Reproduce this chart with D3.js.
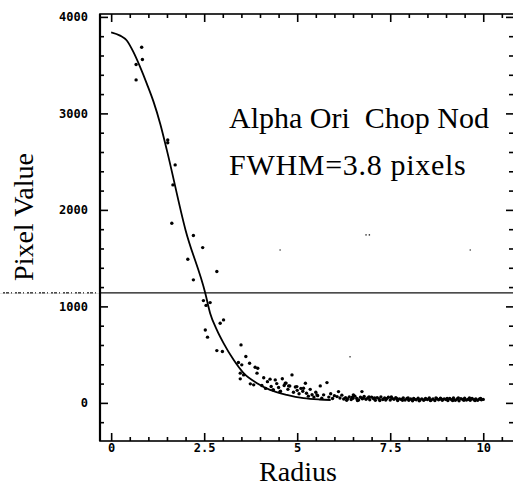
<!DOCTYPE html>
<html>
<head>
<meta charset="utf-8">
<script src="https://cdn.jsdelivr.net/npm/d3@7"></script>
<style>
  body { margin: 0; background: #fff; }
  svg { display: block; }
</style>
</head>
<body>
<div id="chart"></div>
<script>
// fitted profile
const curvePoints = [
  [0, 3840], [0.24, 3806], [0.42, 3755], [0.6, 3634], [0.78, 3479], [0.96, 3306],
  [1.14, 3119], [1.32, 2891], [1.5, 2614], [2.0, 1790], [2.53, 1137], [2.66, 930],
  [2.84, 756], [3.02, 619], [3.29, 446], [3.56, 308], [3.92, 204], [4.27, 135],
  [4.72, 83], [5.17, 49], [5.6, 35], [5.9, 30]
];

// measured pixels (radius, value)
const corePoints = [
  [0.67, 3506], [0.67, 3347], [0.82, 3686], [0.84, 3558], [1.52, 2725], [1.52, 2695],
  [1.63, 1862], [1.66, 2259], [1.72, 2466], [2.06, 1489], [2.21, 1734], [2.21, 1275],
  [2.46, 1609], [2.84, 1361], [2.48, 1060], [2.55, 1010], [2.66, 1039], [2.53, 756],
  [2.59, 681], [2.84, 542], [2.99, 532], [2.93, 826], [3.02, 860], [3.49, 601],
  [3.62, 480], [3.42, 418], [3.51, 394], [3.72, 411], [3.87, 370], [3.94, 359],
  [3.47, 308], [3.56, 290], [3.92, 308], [3.47, 249], [3.74, 197], [3.83, 187],
  [4.27, 246], [4.41, 238], [4.86, 290], [4.68, 204], [4.77, 176], [4.99, 169],
  [5.22, 204], [5.17, 152], [4.36, 135], [4.54, 117], [5.53, 83]
];

const wingPoints = [
  [4.05, 180], [4.1, 260], [4.15, 150], [4.2, 220], [4.3, 170], [4.35, 135], [4.45, 200],
  [4.5, 160], [4.55, 120], [4.6, 250], [4.65, 180], [4.7, 205], [4.75, 140], [4.8, 175],
  [4.9, 110], [4.95, 165], [5.0, 130], [5.05, 95], [5.1, 150], [5.15, 120], [5.25, 100],
  [5.3, 70], [5.35, 140], [5.4, 85], [5.45, 60], [5.5, 110], [5.55, 75], [5.62, 176],
  [5.66, 49], [5.71, 83], [5.8, 210], [5.85, 60], [5.9, 95], [5.95, 45], [6.0, 75],
  [6.07, 65], [6.11, 117], [6.15, 50], [6.2, 80], [6.25, 40], [6.51, 83], [6.74, 117]
];

const tailPoints = [
  [6.30, 55], [6.35, 40], [6.40, 62], [6.45, 35], [6.50, 48], [6.55, 70], [6.60, 45],
  [6.65, 30], [6.70, 58], [6.75, 42], [6.80, 66], [6.85, 38], [6.90, 52], [6.95, 33],
  [7.00, 60], [7.05, 45], [7.10, 28], [7.15, 55], [7.20, 40], [7.25, 62], [7.30, 35],
  [7.35, 50], [7.40, 44], [7.45, 58], [7.50, 30], [7.55, 48], [7.60, 38], [7.65, 55],
  [7.70, 25], [7.75, 42], [7.80, 36], [7.85, 52], [7.90, 30], [7.95, 45], [8.00, 28],
  [8.05, 40], [8.10, 22], [8.15, 38], [8.20, 33], [8.25, 48], [8.30, 30], [8.35, 42],
  [8.40, 26], [8.45, 45], [8.50, 35], [8.55, 50], [8.60, 30], [8.65, 40], [8.70, 25],
  [8.75, 44], [8.80, 33], [8.85, 48], [8.90, 28], [8.95, 42], [9.00, 35], [9.05, 25],
  [9.10, 46], [9.15, 32], [9.20, 50], [9.25, 28], [9.30, 40], [9.35, 22], [9.40, 44],
  [9.45, 35], [9.50, 48], [9.55, 30], [9.60, 38], [9.65, 26], [9.70, 45], [9.75, 33],
  [9.80, 42], [9.85, 28], [9.90, 40], [9.95, 32], [10.00, 36],
  [6.33, 28], [6.48, 60], [6.62, 25], [6.78, 50], [6.93, 62], [7.08, 52], [7.22, 24],
  [7.38, 30], [7.53, 62], [7.68, 44], [7.83, 26], [7.98, 50], [8.13, 46], [8.28, 22],
  [8.43, 36], [8.58, 24], [8.73, 52], [8.88, 38], [9.03, 46], [9.18, 24], [9.33, 52],
  [9.48, 26], [9.63, 50], [9.78, 24], [9.93, 46]
];

// stray specks on the scan
const specks = [[6.85, 1741], [6.94, 1741], [4.54, 1585], [6.42, 477], [9.65, 1585]];

const scanLine = 1140;

const xMajor = [0, 2.5, 5, 7.5, 10];
const xMajorLabels = ["0", "2.5", "5", "7.5", "10"];
const yMajor = [0, 1000, 2000, 3000, 4000];

const width = 513, height = 486;
const mLeft = 100, mRight = 513, mTop = 14, mBottom = 441;

const svg = d3.select("#chart").append("svg")
    .attr("width", width)
    .attr("height", height);

const x = d3.scaleLinear().domain([-0.3, 10.8]).range([mLeft, mRight]);
const y = d3.scaleLinear().domain([-395, 4030]).range([mBottom, mTop]);

const xMinor = d3.range(0, 10.8, 0.5).filter(d => !xMajor.includes(d));
const yMinor = d3.range(-200, 4030, 200).filter(d => !yMajor.includes(d));

// scan line across the page
svg.append("line")
    .attr("x1", 0).attr("x2", width)
    .attr("y1", y(scanLine)).attr("y2", y(scanLine))
    .attr("stroke", "#111")
    .attr("stroke-width", 1.4);
svg.append("line")
    .attr("x1", 0).attr("x2", mLeft)
    .attr("y1", y(scanLine)).attr("y2", y(scanLine))
    .attr("stroke", "#fff")
    .attr("stroke-width", 1.6)
    .attr("stroke-dasharray", "3 2 1 3 2 1");

// frame (right side runs off the page)
svg.append("rect")
    .attr("x", mLeft).attr("y", mTop)
    .attr("width", mRight - mLeft + 4).attr("height", mBottom - mTop)
    .attr("fill", "none")
    .attr("stroke", "#000")
    .attr("stroke-width", 1.6);
svg.append("line")
    .attr("x1", mLeft).attr("x2", mLeft)
    .attr("y1", mTop).attr("y2", mBottom)
    .attr("stroke", "#000")
    .attr("stroke-width", 2.2);

function styleAxis(g) {
    g.select(".domain").remove();
    g.selectAll(".tick line").attr("stroke", "#000").attr("stroke-width", 1.6);
    g.selectAll(".tick text")
        .attr("fill", "#000")
        .style("font-family", "'DejaVu Sans Mono', monospace")
        .style("font-weight", "bold")
        .style("font-size", "12px");
}

// left
svg.append("g").attr("transform", `translate(${mLeft},0)`)
    .call(d3.axisLeft(y).tickValues(yMajor).tickSize(-8).tickPadding(12).tickFormat(d3.format("d")))
    .call(styleAxis);
svg.append("g").attr("transform", `translate(${mLeft},0)`)
    .call(d3.axisLeft(y).tickValues(yMinor).tickSize(-4).tickFormat(""))
    .call(styleAxis);
// right
svg.append("g").attr("transform", `translate(${mRight},0)`)
    .call(d3.axisRight(y).tickValues(yMajor).tickSize(-7).tickFormat(""))
    .call(styleAxis);
svg.append("g").attr("transform", `translate(${mRight},0)`)
    .call(d3.axisRight(y).tickValues(yMinor).tickSize(-4).tickFormat(""))
    .call(styleAxis);
// bottom
svg.append("g").attr("transform", `translate(0,${mBottom})`)
    .call(d3.axisBottom(x).tickValues(xMajor).tickSize(-8).tickPadding(2)
        .tickFormat((d, i) => xMajorLabels[i]))
    .call(styleAxis);
svg.append("g").attr("transform", `translate(0,${mBottom})`)
    .call(d3.axisBottom(x).tickValues(xMinor).tickSize(-4).tickFormat(""))
    .call(styleAxis);
// top
svg.append("g").attr("transform", `translate(0,${mTop})`)
    .call(d3.axisTop(x).tickValues(xMajor).tickSize(-8).tickFormat(""))
    .call(styleAxis);
svg.append("g").attr("transform", `translate(0,${mTop})`)
    .call(d3.axisTop(x).tickValues(xMinor).tickSize(-4).tickFormat(""))
    .call(styleAxis);

// profile curve
let line = d3.line()
    .x(d => x(d[0]))
    .y(d => y(d[1]))
    .curve(d3.curveMonotoneX);

svg.append("path")
    .datum(curvePoints)
    .attr("d", line)
    .attr("fill", "none")
    .attr("stroke", "#000")
    .attr("stroke-width", 1.8);

// points
svg.append("g")
    .selectAll("circle")
    .data(corePoints.concat(wingPoints, tailPoints))
    .join("circle")
    .attr("cx", d => x(d[0]))
    .attr("cy", d => y(d[1]))
    .attr("r", 1.7)
    .attr("fill", "#000");

svg.append("g")
    .selectAll("circle")
    .data(specks)
    .join("circle")
    .attr("cx", d => x(d[0]))
    .attr("cy", d => y(d[1]))
    .attr("r", 0.8)
    .attr("fill", "#333");

// labels
const serif = "'Liberation Serif', 'Times New Roman', serif";

svg.append("text")
    .attr("transform", "translate(33,217) rotate(-90)")
    .attr("text-anchor", "middle")
    .style("font-family", serif)
    .style("font-size", "28px")
    .text("Pixel Value");

svg.append("text")
    .attr("x", 298).attr("y", 481)
    .attr("text-anchor", "middle")
    .style("font-family", serif)
    .style("font-size", "28px")
    .text("Radius");

svg.append("text")
    .attr("x", 229).attr("y", 128)
    .style("font-family", serif)
    .style("font-size", "30px")
    .style("white-space", "pre")
    .text("Alpha Ori  Chop Nod");

svg.append("text")
    .attr("x", 229).attr("y", 175)
    .style("font-family", serif)
    .style("font-size", "30px")
    .style("letter-spacing", "0.7px")
    .text("FWHM=3.8 pixels");
</script>
</body>
</html>
